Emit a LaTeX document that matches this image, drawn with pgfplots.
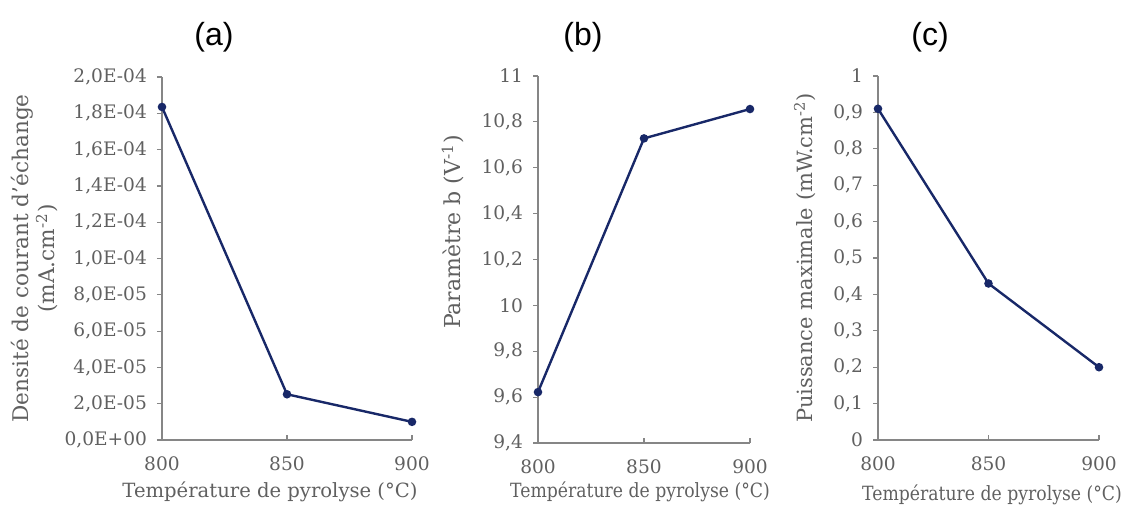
\documentclass[border=0pt]{standalone}
\usepackage{fontspec}
\setmainfont{DejaVu Serif}
\newfontfamily\titlefont{Liberation Sans}
\usepackage{graphicx}
\usepackage{pgfplots}
\pgfplotsset{compat=1.18}
\definecolor{navy}{RGB}{24,40,104}
\definecolor{txtgray}{RGB}{96,96,96}
\definecolor{axgray}{RGB}{134,134,134}
\pgfplotsset{
  panel/.style={
    scale only axis, enlargelimits=false, clip=false,
    axis lines=left, axis line style={-,draw=axgray,line width=0.6pt},
    tick style={draw=axgray,line width=0.6pt},
    tick align=outside, major tick length=2.5pt,
    x tick style={yshift=2.5pt},
    xmin=800, xmax=900, xtick={800,850,900},
    tick label style={font=\fontsize{9.3}{10}\selectfont, text=txtgray},
    /pgf/number format/assume math mode=true,
    /pgf/number format/use comma,
    x tick label style={yshift=-2.5pt},
    y tick label style={xshift=-1.5pt},
    label style={text=txtgray},
    xlabel style={anchor=center, font=\fontsize{9.8}{11}\selectfont},
    ylabel style={anchor=center, rotate=0, align=center},
  },
  serie/.style={color=navy, line width=1.2pt, mark=*, mark size=1.5pt, mark options={solid, fill=navy}},
}
\begin{document}
\begin{tikzpicture}
\useasboundingbox (0,0) rectangle (563pt,-252.5pt);
% (a)
\begin{axis}[panel, at={(81pt,-220pt)}, anchor=south west,
  width=125pt, height=181.5pt,
  ymin=0, ymax=2e-4, scaled y ticks=false,
  ytick={0,2e-5,4e-5,6e-5,8e-5,1e-4,1.2e-4,1.4e-4,1.6e-4,1.8e-4,2e-4},
  yticklabels={{0,0E+00},{2,0E-05},{4,0E-05},{6,0E-05},{8,0E-05},{1,0E-04},{1,2E-04},{1,4E-04},{1,6E-04},{1,8E-04},{2,0E-04}},
  ylabel={Densit\'e de courant d'\'echange\\(mA.cm\textsuperscript{-2})},
  ylabel style={at={(axis description cs:-0.508,0.5)}, font=\fontsize{10.8}{13}\selectfont},
  xlabel={Temp\'erature de pyrolyse (\textdegree C)},
  xlabel style={at={(axis description cs:0.432,-0.143)}},
]
\addplot[serie] coordinates {(800,1.835e-4) (850,2.52e-5) (900,1.0e-5)};
\end{axis}
% (b)
\begin{axis}[panel, at={(269pt,-221.5pt)}, anchor=south west,
  width=106pt, height=183.5pt,
  ymin=9.4, ymax=11, ytick={9.4,9.6,9.8,10,10.2,10.4,10.6,10.8,11},
  ylabel={Param\`etre b (V\textsuperscript{-1})},
  ylabel style={at={(axis description cs:-0.401,0.575)}, font=\fontsize{11}{13}\selectfont},
  xlabel={\scalebox{0.88}[1]{Temp\'erature de pyrolyse (\textdegree C)}},
  xlabel style={at={(axis description cs:0.481,-0.134)}},
]
\addplot[serie] coordinates {(800,9.622) (850,10.728) (900,10.856)};
\end{axis}
% (c)
\begin{axis}[panel, at={(439pt,-220pt)}, anchor=south west,
  width=110.5pt, height=182pt,
  ymin=0, ymax=1, ytick={0,0.1,0.2,0.3,0.4,0.5,0.6,0.7,0.8,0.9,1},
  ylabel={Puissance maximale (mW.cm\textsuperscript{-2})},
  ylabel style={at={(axis description cs:-0.330,0.5)}, font=\fontsize{10.5}{12}\selectfont},
  xlabel={\scalebox{0.88}[1]{Temp\'erature de pyrolyse (\textdegree C)}},
  xlabel style={at={(axis description cs:0.516,-0.151)}},
]
\addplot[serie] coordinates {(800,0.91) (850,0.43) (900,0.20)};
\end{axis}
\node[font=\titlefont\fontsize{16}{18}\selectfont] at (107pt,-18.5pt) {(a)};
\node[font=\titlefont\fontsize{16}{18}\selectfont] at (291.5pt,-18.5pt) {(b)};
\node[font=\titlefont\fontsize{16}{18}\selectfont] at (465pt,-18.5pt) {(c)};
\end{tikzpicture}
\end{document}
